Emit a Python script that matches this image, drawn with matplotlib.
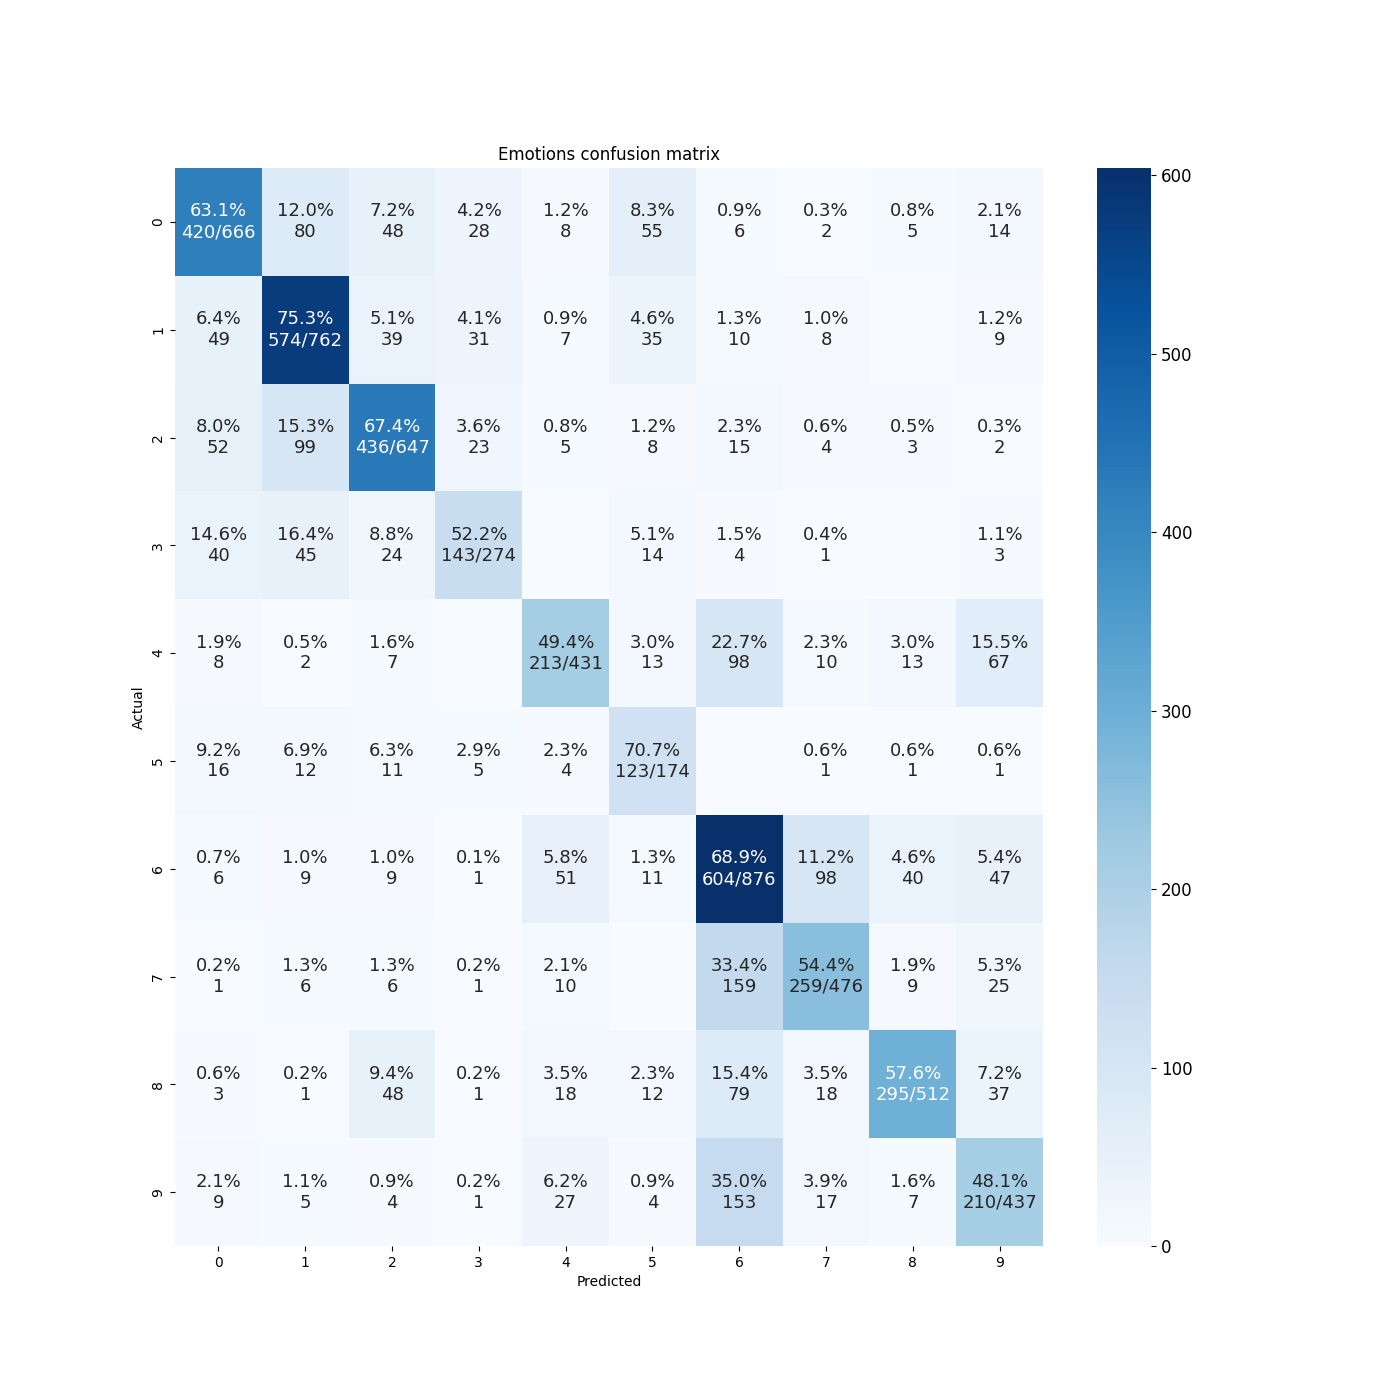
import numpy as np
import matplotlib
matplotlib.use("Agg")
import matplotlib.pyplot as plt
import seaborn as sns

labels = [str(i) for i in range(10)]
counts = np.array([
    [420, 80, 48, 28, 8, 55, 6, 2, 5, 14],
    [49, 574, 39, 31, 7, 35, 10, 8, 0, 9],
    [52, 99, 436, 23, 5, 8, 15, 4, 3, 2],
    [40, 45, 24, 143, 0, 14, 4, 1, 0, 3],
    [8, 2, 7, 0, 213, 13, 98, 10, 13, 67],
    [16, 12, 11, 5, 4, 123, 0, 1, 1, 1],
    [6, 9, 9, 1, 51, 11, 604, 98, 40, 47],
    [1, 6, 6, 1, 10, 0, 159, 259, 9, 25],
    [3, 1, 48, 1, 18, 12, 79, 18, 295, 37],
    [9, 5, 4, 1, 27, 4, 153, 17, 7, 210],
])

row_sums = counts.sum(axis=1, keepdims=True)
pct = counts / row_sums * 100
annot = np.empty(counts.shape, dtype=object)
n = counts.shape[0]
for i in range(n):
    for j in range(n):
        c = counts[i, j]
        s = row_sums[i, 0]
        if c == 0:
            annot[i, j] = ""
        elif i == j:
            annot[i, j] = "%.1f%%\n%d/%d" % (pct[i, j], c, s)
        else:
            annot[i, j] = "%.1f%%\n%d" % (pct[i, j], c)

fig, ax = plt.subplots(figsize=(14, 14), dpi=100)
sns.heatmap(counts, annot=annot, fmt="", cmap="Blues", ax=ax,
            xticklabels=labels, yticklabels=labels,
            annot_kws={"size": 13})
ax.set_title("Emotions confusion matrix", fontsize=12)
ax.set_xlabel("Predicted")
ax.set_ylabel("Actual")
cbar = ax.collections[0].colorbar
cbar.ax.tick_params(labelsize=12)
fig.savefig("out.png", dpi=100)
